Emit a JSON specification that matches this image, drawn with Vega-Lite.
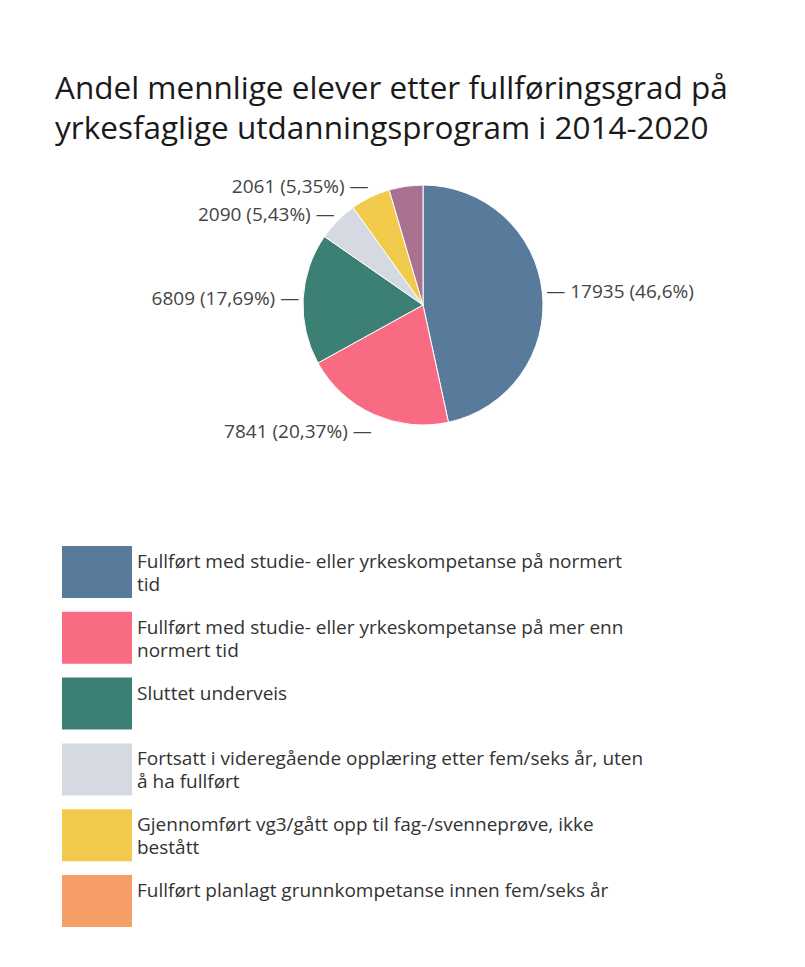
{
  "$schema": "https://vega.github.io/schema/vega-lite/v6.json",
  "width": 764,
  "height": 300,
  "autosize": "none",
  "padding": {"left": 41, "top": 155, "right": 0, "bottom": 512},
  "background": "white",
  "title": {
    "text": ["Andel mennlige elever etter fullføringsgrad på", "yrkesfaglige utdanningsprogram i 2014-2020"],
    "anchor": "start",
    "frame": "group",
    "dx": 14,
    "offset": 10,
    "fontSize": 31.5,
    "font": "Open Sans",
    "fontWeight": "normal",
    "color": "#1a1a1a",
    "lineHeight": 40
  },
  "config": {
    "view": {"stroke": null},
    "style": {"guide-label": {"lineHeight": 23}}
  },
  "data": {
    "values": [
      {"nr": 1, "kategori": "Fullført med studie- eller yrkeskompetanse på normert tid", "antall": 17935, "andel": 46.6},
      {"nr": 2, "kategori": "Fullført med studie- eller yrkeskompetanse på mer enn normert tid", "antall": 7841, "andel": 20.37},
      {"nr": 3, "kategori": "Sluttet underveis", "antall": 6809, "andel": 17.69},
      {"nr": 4, "kategori": "Fortsatt i videregående opplæring etter fem/seks år, uten å ha fullført", "antall": 2090, "andel": 5.43},
      {"nr": 5, "kategori": "Gjennomført vg3/gått opp til fag-/svenneprøve, ikke bestått", "antall": 2061, "andel": 5.35},
      {"nr": 6, "kategori": "Annet", "antall": 1751, "andel": null}
    ]
  },
  "transform": [
    {"calculate": "isValid(datum.andel) ? (datum.nr == 1 ? '—  ' : '') + datum.antall + ' (' + replace(datum.andel + '', '.', ',') + '%)' + (datum.nr == 1 ? '' : '  —') : ''", "as": "etikett"}
  ],
  "encoding": {
    "theta": {"field": "antall", "type": "quantitative", "stack": true},
    "order": {"field": "nr", "type": "quantitative"},
    "color": {
      "field": "kategori",
      "type": "nominal",
      "scale": {
        "domain": [
          "Fullført med studie- eller yrkeskompetanse på normert tid",
          "Fullført med studie- eller yrkeskompetanse på mer enn normert tid",
          "Sluttet underveis",
          "Fortsatt i videregående opplæring etter fem/seks år, uten å ha fullført",
          "Gjennomført vg3/gått opp til fag-/svenneprøve, ikke bestått",
          "Fullført planlagt grunnkompetanse innen fem/seks år",
          "Annet"
        ],
        "range": ["#587a9b", "#f96b82", "#3c8075", "#d5d9e1", "#f1c94b", "#f59f66", "#a8718f"]
      },
      "legend": {
        "orient": "none",
        "legendX": 30,
        "legendY": 391,
        "title": null,
        "values": [
          "Fullført med studie- eller yrkeskompetanse på normert tid",
          "Fullført med studie- eller yrkeskompetanse på mer enn normert tid",
          "Sluttet underveis",
          "Fortsatt i videregående opplæring etter fem/seks år, uten å ha fullført",
          "Gjennomført vg3/gått opp til fag-/svenneprøve, ikke bestått",
          "Fullført planlagt grunnkompetanse innen fem/seks år"
        ],
        "symbolType": "M-1.346,-1H1.346V1H-1.346Z",
        "symbolSize": 2704,
        "symbolStrokeWidth": 0,
        "symbolOpacity": 1,
        "rowPadding": 13.8,
        "padding": 0,
        "labelOffset": 14,
        "labelFont": "Open Sans",
        "labelFontSize": 19,
        "labelColor": "#333333",
        "labelLimit": 700,
        "labelBaseline": "bottom",
        "labelExpr": "datum.label == 'Fullført med studie- eller yrkeskompetanse på normert tid' ? ['Fullført med studie- eller yrkeskompetanse på normert', 'tid'] : datum.label == 'Fullført med studie- eller yrkeskompetanse på mer enn normert tid' ? ['Fullført med studie- eller yrkeskompetanse på mer enn', 'normert tid'] : datum.label == 'Fortsatt i videregående opplæring etter fem/seks år, uten å ha fullført' ? ['Fortsatt i videregående opplæring etter fem/seks år, uten', 'å ha fullført'] : datum.label == 'Gjennomført vg3/gått opp til fag-/svenneprøve, ikke bestått' ? ['Gjennomført vg3/gått opp til fag-/svenneprøve, ikke', 'bestått'] : [datum.label, '']"
      }
    }
  },
  "layer": [
    {"mark": {"type": "arc", "outerRadius": 120, "stroke": "white", "strokeWidth": 1}},
    {
      "mark": {
        "type": "text",
        "radius": 124,
        "align": {"expr": "datum.nr == 1 ? 'left' : 'right'"},
        "dy": {"expr": "datum.nr == 2 ? 14 : datum.nr == 5 ? -7 : datum.nr == 4 ? -3 : 0"},
        "baseline": "middle",
        "font": "Open Sans",
        "fontSize": 19,
        "color": "#444444"
      },
      "encoding": {"text": {"field": "etikett"}, "color": {"value": "#444444"}}
    }
  ]
}
